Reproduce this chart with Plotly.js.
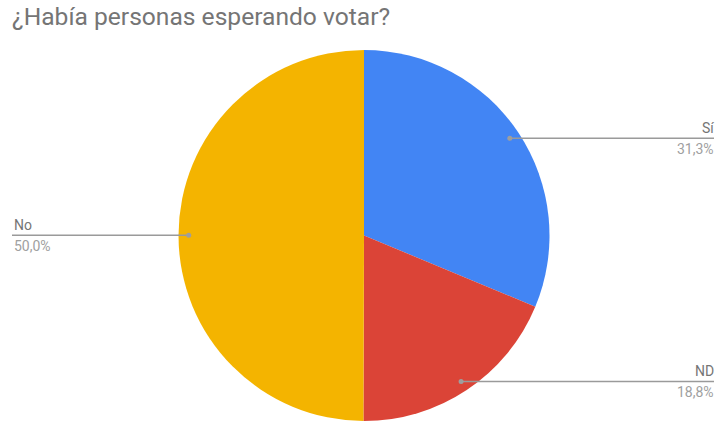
<!DOCTYPE html>
<html>
<head>
<meta charset="utf-8">
<script src="https://cdn.plot.ly/plotly-3.0.1.min.js"></script>
<style>html,body{margin:0;padding:0;background:#fff;}#chart{width:718px;height:421px;}</style>
</head>
<body>
<div id="chart"></div>
<script>
// Data
const categories = ["Sí", "ND", "No"];
const percents = [31.3, 18.8, 50.0];
const percentLabels = ["31,3%", "18,8%", "50,0%"];
const colors = ["#4285F4", "#DB4437", "#F4B400"];
const titleText = "¿Había personas esperando votar?";

// Geometry (layout only)
const W = 718, H = 421;
const M = {l: 0, r: 0, t: 50, b: 0};
const plotH = H - M.t - M.b;
const plotW = W - M.l - M.r;
const cxPx = 364;
const domHalf = 0.3;
const domX = [cxPx / W - domHalf, cxPx / W + domHalf];
const rPx = plotH / 2;
const cxPaper = (domX[0] + domX[1]) / 2;
const cyPaper = 0.5;
const dotFrac = 0.945;
const leftEdgePx = 12, rightEdgePx = 714;

const total = percents.reduce((a, b) => a + b, 0);
const shapes = [];
const annotations = [];
let cum = 0;
percents.forEach((v, i) => {
  const mid = (cum + v / 2) / total * 2 * Math.PI;
  cum += v;
  const dx = Math.sin(mid) * rPx * dotFrac;
  const dy = Math.cos(mid) * rPx * dotFrac;
  const px = cxPaper + dx / plotW;
  const py = cyPaper + dy / plotH;
  const right = dx >= 0;
  const edge = right ? rightEdgePx / W : leftEdgePx / W;
  shapes.push({
    type: "line", xref: "paper", yref: "paper",
    x0: px, y0: py, x1: edge, y1: py,
    line: {color: "#9a9a9a", width: 1.5}
  });
  shapes.push({
    type: "circle", xref: "paper", yref: "paper",
    xsizemode: "pixel", ysizemode: "pixel",
    xanchor: px, yanchor: py,
    x0: -2.5, x1: 2.5, y0: -2.5, y1: 2.5,
    fillcolor: "#9e9e9e", line: {width: 0}
  });
  annotations.push({
    xref: "paper", yref: "paper", x: edge, y: py,
    xanchor: right ? "right" : "left", yanchor: "bottom",
    yshift: 0, xshift: right ? 2 : 0, showarrow: false, text: categories[i],
    font: {family: "Roboto", size: 14, color: "#757575"}
  });
  annotations.push({
    xref: "paper", yref: "paper", x: edge, y: py,
    xanchor: right ? "right" : "left", yanchor: "top",
    yshift: -1, xshift: right ? 2 : 0, showarrow: false, text: percentLabels[i],
    font: {family: "Roboto", size: 14, color: "#a0a0a0"}
  });
});

const trace = {
  type: "pie",
  labels: categories,
  values: percents,
  marker: {colors: colors, line: {width: 0}},
  sort: false,
  direction: "clockwise",
  rotation: 0,
  textinfo: "none",
  hoverinfo: "none",
  domain: {x: domX, y: [0, 1]},
  showlegend: false
};

const layout = {
  width: W, height: H,
  margin: M,
  paper_bgcolor: "#ffffff",
  title: {
    text: titleText,
    x: 12 / W, xref: "container", xanchor: "left",
    y: 1 - 8 / H, yref: "container", yanchor: "top",
    font: {family: "Roboto", size: 24.6, color: "#757575"}
  },
  shapes: shapes,
  annotations: annotations,
  showlegend: false
};

Plotly.newPlot("chart", [trace], layout, {displayModeBar: false, staticPlot: true});
</script>
</body>
</html>
